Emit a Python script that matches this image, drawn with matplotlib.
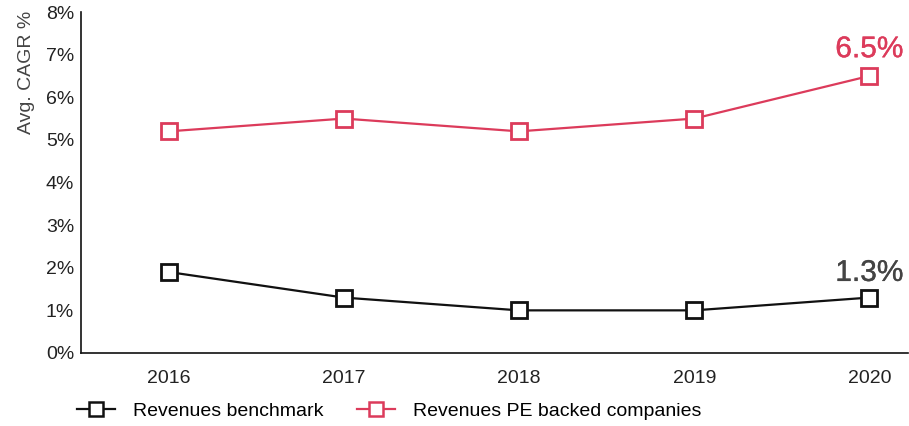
import matplotlib
matplotlib.use("Agg")
import matplotlib.pyplot as plt
import matplotlib.patheffects as pe

years = [2016, 2017, 2018, 2019, 2020]
benchmark = [1.9, 1.3, 1.0, 1.0, 1.3]
pe_backed = [5.2, 5.5, 5.2, 5.5, 6.5]
y_ticks = [0, 1, 2, 3, 4, 5, 6, 7, 8]
labels = ["Revenues benchmark", "Revenues PE backed companies"]

RED = "#DC3B5B"
BLACK = "#111111"

plt.rcParams['font.family'] = ['Liberation Sans', 'DejaVu Sans']

fig = plt.figure(figsize=(9.09, 4.26), dpi=100)
ax = fig.add_axes([0.0891, 0.1714, 0.9098, 0.8004])

ax.plot(years, benchmark, color=BLACK, lw=1.6, marker='s', ms=11.5,
        mfc='white', mec=BLACK, mew=2, label=labels[0])
ax.plot(years, pe_backed, color=RED, lw=1.6, marker='s', ms=11.5,
        mfc='white', mec=RED, mew=2, label=labels[1])

ax.annotate(f"{pe_backed[-1]}%", (years[-1], pe_backed[-1]), xytext=(0, 13.5),
            textcoords='offset points', ha='center', va='baseline',
            fontsize=21.5, color=RED,
            path_effects=[pe.withStroke(linewidth=0.25, foreground=RED)])
ax.annotate(f"{benchmark[-1]}%", (years[-1], benchmark[-1]), xytext=(0, 12),
            textcoords='offset points', ha='center', va='baseline',
            fontsize=21.5, color="#444444",
            path_effects=[pe.withStroke(linewidth=0.25, foreground="#444444")])

ax.set_xlim(2015.5, 2020.22)
ax.set_ylim(0, 8)
ax.set_yticks(y_ticks)
ax.set_yticklabels([f"{v}%" for v in y_ticks])
ax.set_xticks(years)
ax.tick_params(length=0, labelsize=14, colors="#222222", pad=5)
ax.tick_params(axis='x', pad=12)
ax.set_ylabel("Avg. CAGR %", fontsize=14, color="#444444")
ax.yaxis.set_label_coords(-0.056, 0.824)
for s in ['top', 'right']:
    ax.spines[s].set_visible(False)
for s in ['left', 'bottom']:
    ax.spines[s].set_linewidth(1.2)
    ax.spines[s].set_color(BLACK)

leg = fig.legend(loc='center left', bbox_to_anchor=(0.076, 0.035), ncol=2,
                 frameon=False, fontsize=14, handlelength=1.95,
                 columnspacing=1.75, handletextpad=0.93, borderaxespad=0)
for h in leg.legend_handles:
    h.set_markersize(9.5)
    h.set_markeredgewidth(1.8)

fig.savefig("out.png", dpi=100)
